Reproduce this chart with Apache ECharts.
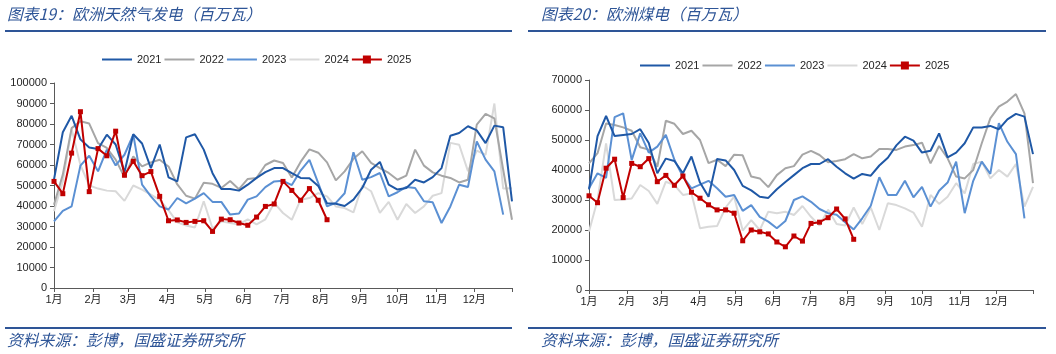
<!DOCTYPE html>
<html>
<head>
<meta charset="utf-8">
<script src="https://cdn.jsdelivr.net/npm/echarts@6/dist/echarts.min.js"></script>
<style>
  html, body { margin: 0; padding: 0; background: #fff; }
  #main { width: 1056px; height: 354px; }
</style>
</head>
<body>
<div id="main"></div>
<script>
// 月份刻度
var months = ['1月', '2月', '3月', '4月', '5月', '6月', '7月', '8月', '9月', '10月', '11月', '12月'];
var monthStart = [0, 31, 59, 90, 120, 151, 181, 212, 243, 273, 304, 334, 364];
var years = ['2021', '2022', '2023', '2024', '2025'];

// 图表19 欧洲天然气发电（按周）
var gas2021 = [53000,76000,84000,72500,68500,67800,74800,70000,56500,75000,70500,58500,70000,54000,52000,73500,75000,67500,56000,48300,48300,47500,50400,53700,56500,58500,58500,56000,53700,53500,49800,41300,41100,40000,43100,48800,57700,61500,50400,48000,48800,52800,51500,54100,58500,74300,75600,78900,76900,70700,79200,78400,42300];
var gas2022 = [40600,55300,78000,81300,80200,70700,68300,62600,54100,64200,59300,61300,62600,59300,50500,45000,43600,51300,50800,48800,52200,48200,53200,53700,60000,62200,61000,53900,61500,67600,66000,61300,52500,56900,63000,66700,61000,58500,56100,52800,54800,67500,59700,56400,54800,53700,51500,52800,79700,84900,82700,57700,33300];
var gas2023 = [32500,37600,39800,59700,64500,56900,67500,59800,65000,74800,50400,44700,39800,38300,43900,41300,43600,46300,42000,42000,35800,36300,43100,44700,49200,52000,52300,50200,57300,62500,51200,39800,41500,46200,66200,52800,54100,56100,44700,46700,49300,48800,42300,41800,31700,39800,50400,49300,71500,62600,56900,35800];
var gas2024 = [37500,52000,77500,60000,50000,48500,47500,47200,42500,50000,48000,45500,43000,38000,32000,30500,29500,42300,29000,32500,31700,31000,33500,31000,33500,41500,36600,33300,43100,43900,46300,44700,39800,39000,36900,50000,47200,36600,42000,33300,41000,36600,39800,45000,46300,70800,69900,57000,67000,65000,90000,48500,48700];
var gas2025 = [52000,46000,65800,86000,47000,68000,64500,76500,55000,61800,54800,56800,44700,32800,33200,32000,32500,32800,27600,33600,33300,31700,30600,34600,39800,41000,52000,47600,42800,48500,42800,33300];

// 图表20 欧洲煤电（按周）
var coal2021 = [33500,51300,58000,51300,51700,52000,53600,49000,38900,43800,43000,38900,44500,35800,31100,43700,43200,40000,34700,33200,31100,30700,33600,36000,38300,40600,42000,42000,43600,41100,38900,37100,38700,38100,41500,44100,48200,51100,49800,45800,46400,52200,44200,45800,48900,54200,54200,54700,53600,56900,58700,57800,45300];
var coal2022 = [42200,45600,55500,55000,54200,53100,47600,46800,41100,56400,55400,52000,53100,50000,42300,43400,41300,45100,44900,37800,37200,34300,38300,40600,41300,45100,46400,45000,42600,43000,43600,45300,43900,44500,47000,47000,46700,47800,48300,49100,42200,48000,43900,37800,37200,40000,48900,57200,61100,62800,65300,58900,35600];
var coal2023 = [33900,38900,37400,57600,58900,43300,52200,45800,47800,51700,43400,37800,33900,35100,36400,33900,31100,31700,26400,28300,24400,22800,20600,23000,30000,31200,29400,27000,25600,25100,22600,20200,23900,28100,37600,31700,31700,36400,30900,34400,27800,33100,35800,42800,25600,36400,42800,38700,55600,49400,45300,23900];
var coal2024 = [19500,30000,48900,30000,30200,30500,35000,33000,28700,36100,35000,31700,32200,20600,21100,21300,27500,31100,19800,23300,20000,26100,25600,26100,25000,28000,24400,21500,26800,22000,21500,27500,22000,27500,20000,28900,28300,27200,25800,21100,31700,28700,31100,35600,32200,42000,42800,37200,40000,37800,42000,27800,34400];
var coal2025 = [31400,29100,40600,43600,30800,42200,41100,43800,36100,38200,34900,38000,32600,30600,28400,26700,26700,25600,16400,20000,19400,18700,16000,14400,18000,16300,22200,22600,24100,27000,23700,16900];

var colors = ['#1f58a6', '#a6a6a6', '#5b90d3', '#d9d9d9', '#c00000'];
var zs = [5, 3, 4, 2, 6];
var font = 'Arial, "Liberation Sans", "Noto Sans CJK SC", sans-serif';
var blue = '#2e5597';

function weekly(arr) {
	return arr.map(function (v, i) { return [i * 7, v]; });
}

function makeSeries(list, idx) {
	return list.map(function (arr, k) {
		var s = {
			name: years[k],
			type: 'line',
			xAxisIndex: idx,
			yAxisIndex: idx,
			data: weekly(arr),
			z: zs[k],
			color: colors[k],
			lineStyle: { width: 2, color: colors[k] },
			symbol: 'none',
			animation: false
		};
		if (k === 4) {
			s.symbol = 'rect';
			s.symbolSize = 5;
			s.showSymbol = true;
		}
		return s;
	});
}

// 图例：只有2025带方块
var legendData = years.map(function (y, k) {
	if (k === 4) return { name: y };
	return { name: y, itemStyle: { opacity: 0 } };
});

function xAxisCfg(idx) {
	return {
		type: 'value',
		gridIndex: idx,
		min: 0,
		max: 364,
		axisLine: { show: true, lineStyle: { color: '#595959', width: 1 } },
		axisTick: { show: true, customValues: monthStart, length: 4, lineStyle: { color: '#595959' } },
		axisLabel: {
			customValues: monthStart.slice(0, 12),
			formatter: function (v) { return months[monthStart.indexOf(v)]; },
			fontSize: 11,
			color: '#262626',
			fontFamily: font,
			margin: 6
		},
		splitLine: { show: false }
	};
}

function yAxisCfg(idx, max) {
	return {
		type: 'value',
		gridIndex: idx,
		min: 0,
		max: max,
		interval: 10000,
		axisLine: { show: true, lineStyle: { color: '#595959', width: 1 } },
		axisTick: { show: true, length: 4, lineStyle: { color: '#595959' } },
		axisLabel: {
			fontSize: 11, color: '#262626', fontFamily: font, margin: 7,
			formatter: function (v) { return String(v); }
		},
		splitLine: { show: false }
	};
}

var titleStyle = { fontSize: 15.8, fontStyle: 'italic', fontWeight: 'normal', color: blue, fontFamily: '"Noto Sans CJK SC", sans-serif' };
var srcStyle = { fontSize: 15.8, fontStyle: 'italic', fontWeight: 'normal', color: blue, fontFamily: '"Noto Sans CJK SC", sans-serif' };
var legendText = { fontSize: 11, color: '#262626', fontFamily: font };

var myChart = echarts.init(document.getElementById('main'));
var option = {
	animation: false,
	title: [
		{ text: '图表19：欧洲天然气发电（百万瓦）', left: 7, top: 6, textStyle: titleStyle, padding: 0 },
		{ text: '图表20：欧洲煤电（百万瓦）', left: 541, top: 6, textStyle: titleStyle, padding: 0 },
		{ text: '资料来源：彭博，国盛证券研究所', left: 7, top: 332, textStyle: srcStyle, padding: 0 },
		{ text: '资料来源：彭博，国盛证券研究所', left: 541, top: 332, textStyle: srcStyle, padding: 0 }
	],
	legend: [
		{ data: legendData, left: 96, top: 49, itemWidth: 30, itemHeight: 10, itemGap: 2, textStyle: legendText },
		{ data: legendData, left: 634, top: 55, itemWidth: 30, itemHeight: 10, itemGap: 2, textStyle: legendText }
	],
	grid: [
		{ left: 54, top: 83, width: 458, height: 205 },
		{ left: 589, top: 80, width: 444, height: 210 }
	],
	xAxis: [xAxisCfg(0), xAxisCfg(1)],
	yAxis: [yAxisCfg(0, 100000), yAxisCfg(1, 70000)],
	graphic: [
		{ type: 'rect', shape: { x: 5, y: 30, width: 507, height: 2 }, style: { fill: blue } },
		{ type: 'rect', shape: { x: 528, y: 30, width: 518, height: 2 }, style: { fill: blue } },
		{ type: 'rect', shape: { x: 5, y: 327, width: 507, height: 2 }, style: { fill: blue } },
		{ type: 'rect', shape: { x: 528, y: 327, width: 518, height: 2 }, style: { fill: blue } }
	],
	series: makeSeries([gas2021, gas2022, gas2023, gas2024, gas2025], 0)
		.concat(makeSeries([coal2021, coal2022, coal2023, coal2024, coal2025], 1))
};
myChart.setOption(option);
window.onresize = function () {
	myChart.resize();
};
</script>
</body>
</html>
